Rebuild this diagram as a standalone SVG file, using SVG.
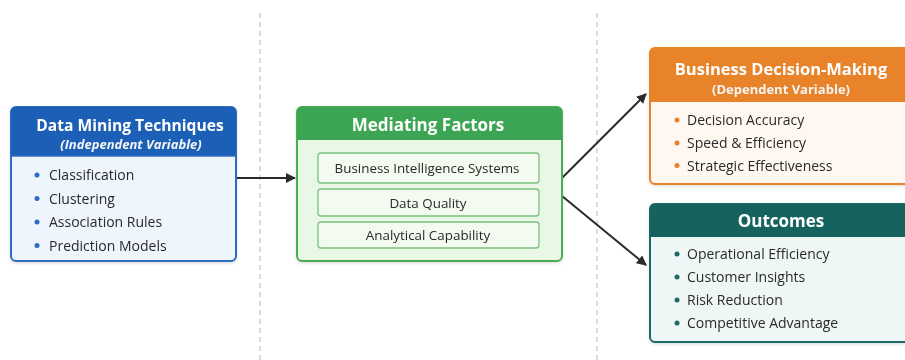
<svg xmlns="http://www.w3.org/2000/svg" width="905" height="360" viewBox="0 0 905 360">
  <defs>
    <marker id="arrow" viewBox="0 0 10 10" refX="9" refY="5" markerWidth="10" markerHeight="10" markerUnits="userSpaceOnUse" orient="auto">
      <path d="M0,0 L10,5 L0,10 z" fill="#2b2b2b"/>
    </marker>
    <filter id="shadow" x="-10%" y="-10%" width="120%" height="130%">
      <feDropShadow dx="0" dy="1.5" stdDeviation="1.5" flood-color="#000" flood-opacity="0.12"/>
    </filter>
  </defs>
  <style>
    text { font-family: "Open Sans", "Noto Sans", "Liberation Sans", sans-serif; }
    .title { font-size: 17px; font-weight: 700; fill: #ffffff; text-anchor: middle; }
    .sub { font-size: 13px; font-weight: 700; fill: #f4f4f4; text-anchor: middle; }
    .item { font-size: 14px; fill: #2a2a2a; }
    .inner { font-size: 13.4px; fill: #2a2a2a; text-anchor: middle; }
    .divider { stroke: #c4c4c4; stroke-width: 1.2; stroke-dasharray: 5 4; }
    .conn { stroke: #2b2b2b; stroke-width: 2; fill: none; marker-end: url(#arrow); }
  </style>

  <rect width="905" height="360" fill="#ffffff"/>

  <!-- column dividers -->
  <line class="divider" x1="260" y1="13" x2="260" y2="360"/>
  <line class="divider" x1="597" y1="13" x2="597" y2="360"/>

  <!-- connectors -->
  <g id="connectors">
    <line class="conn" x1="237" y1="178" x2="295" y2="178"/>
    <line class="conn" x1="562" y1="178" x2="646" y2="94"/>
    <line class="conn" x1="562" y1="196" x2="646" y2="265"/>
  </g>

  <!-- independent variable -->
  <g id="data-mining" filter="url(#shadow)">
    <rect x="11" y="107" width="225" height="154" rx="5" fill="#eef5fc" stroke="#2f6cc0" stroke-width="2"/>
    <path d="M11,156 V112 a5,5 0 0 1 5,-5 H231 a5,5 0 0 1 5,5 V156 z" fill="#1f5fb6"/>
    <line x1="11" y1="156" x2="236" y2="156" stroke="#2f6cc0" stroke-width="1.5"/>
    <text class="title" x="130" y="131" style="font-size:15.6px">Data Mining Techniques</text>
    <text class="sub" x="131" y="149" style="font-style:italic">(Independent Variable)</text>
    <g fill="#2f6cc0">
      <circle cx="37" cy="175" r="2.5"/>
      <circle cx="37" cy="198.5" r="2.5"/>
      <circle cx="37" cy="222" r="2.5"/>
      <circle cx="37" cy="245.5" r="2.5"/>
    </g>
    <text class="item" x="49" y="180">Classification</text>
    <text class="item" x="49" y="203.5">Clustering</text>
    <text class="item" x="49" y="227">Association Rules</text>
    <text class="item" x="49" y="250.5">Prediction Models</text>
  </g>

  <!-- mediators -->
  <g id="mediating-factors" filter="url(#shadow)">
    <rect x="297" y="107" width="265" height="154" rx="5" fill="#e9f8e6" stroke="#4cae55" stroke-width="2"/>
    <path d="M297,140 V112 a5,5 0 0 1 5,-5 H557 a5,5 0 0 1 5,5 V140 z" fill="#3ba552"/>
    <text class="title" x="428" y="131">Mediating Factors</text>
    <g fill="#f3fbf1" stroke="#7cc07e" stroke-width="1.3">
      <rect x="318" y="153" width="221" height="30" rx="3"/>
      <rect x="318" y="189" width="221" height="27" rx="3"/>
      <rect x="318" y="222" width="221" height="26" rx="3"/>
    </g>
    <text class="inner" x="427" y="172.5">Business Intelligence Systems</text>
    <text class="inner" x="428" y="207.5">Data Quality</text>
    <text class="inner" x="428" y="240">Analytical Capability</text>
  </g>

  <!-- dependent variable -->
  <g id="business-decision" filter="url(#shadow)">
    <rect x="650" y="48" width="260" height="136" rx="5" fill="#fff8f1" stroke="#e8832a" stroke-width="2"/>
    <path d="M650,102 V53 a5,5 0 0 1 5,-5 H910 V102 z" fill="#e8832a"/>
    <text class="title" x="781" y="75" style="font-size:16.5px">Business Decision-Making</text>
    <text class="sub" x="781" y="94">(Dependent Variable)</text>
    <g fill="#e8832a">
      <circle cx="677" cy="120" r="2.5"/>
      <circle cx="677" cy="143" r="2.5"/>
      <circle cx="677" cy="165.5" r="2.5"/>
    </g>
    <text class="item" x="687" y="125">Decision Accuracy</text>
    <text class="item" x="687" y="148">Speed &amp; Efficiency</text>
    <text class="item" x="687" y="170.5">Strategic Effectiveness</text>
  </g>

  <!-- outcomes -->
  <g id="outcomes" filter="url(#shadow)">
    <rect x="650" y="204" width="260" height="138" rx="5" fill="#eef6f6" stroke="#1d6a67" stroke-width="2"/>
    <path d="M650,237 V209 a5,5 0 0 1 5,-5 H910 V237 z" fill="#14625f"/>
    <text class="title" x="781" y="227">Outcomes</text>
    <g fill="#1d6a67">
      <circle cx="677" cy="254" r="2.5"/>
      <circle cx="677" cy="277" r="2.5"/>
      <circle cx="677" cy="300" r="2.5"/>
      <circle cx="677" cy="323" r="2.5"/>
    </g>
    <text class="item" x="687" y="259">Operational Efficiency</text>
    <text class="item" x="687" y="282">Customer Insights</text>
    <text class="item" x="687" y="305">Risk Reduction</text>
    <text class="item" x="687" y="328">Competitive Advantage</text>
  </g>
</svg>
